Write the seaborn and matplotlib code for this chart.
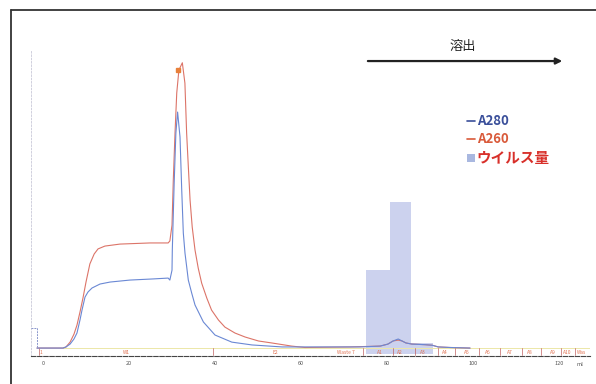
import numpy as np
import pandas as pd
import seaborn as sns
import matplotlib.pyplot as plt
from matplotlib.lines import Line2D
from matplotlib.patches import Patch

# elution volume (ml) and absorbance (mAU)
a280_ml = [-1.4, 4.65, 5.35, 6.3, 7.2, 7.9, 8.6, 9.07, 9.77, 10.47, 11.4, 13.26,
           15.6, 20.2, 25.6, 29.1, 29.5, 30.0, 30.07, 30.5, 30.9, 31.3, 31.86,
           32.26, 32.63, 33.02, 33.42, 33.79, 34.58, 35.35, 37.3, 40.0, 43.9,
           48.6, 55.6, 66.7, 73.7, 78.4, 80.2, 81.4, 82.6, 83.5, 84.4, 85.8,
           88.8, 90.5, 91.9, 94.7, 99.3]
a280_mau = [0, 0, 4, 14, 32, 53, 99, 134, 180, 198, 212, 226,
            233, 240, 244, 247, 240, 275, 346, 582, 759, 833, 745,
            558, 406, 335, 286, 240, 194, 152, 92, 46, 21,
            11, 4, 4, 4, 7, 14, 25, 32, 25, 18, 14,
            12, 10, 4, 2, 0]

a260_ml = [-1.4, 4.65, 5.35, 6.3, 7.2, 7.9, 8.6, 9.3, 10.0, 10.9, 11.9, 12.8,
           14.4, 17.9, 24.9, 29.1, 29.5, 30.0, 30.3, 30.7, 31.1, 31.6, 32.4,
           33.0, 33.4, 33.8, 34.2, 34.7, 35.35, 36.1, 36.9, 38.1, 39.2, 40.8,
           42.3, 44.65, 47.0, 50.1, 53.2, 57.8, 60.9, 71.4, 78.4, 80.2, 81.4,
           82.6, 83.5, 84.4, 85.8, 88.8, 90.5, 91.9, 94.7, 99.3]
a260_mau = [0, 0, 4, 21, 49, 81, 127, 177, 233, 297, 332, 350,
            360, 367, 371, 371, 378, 434, 593, 759, 900, 981, 1007,
            935, 759, 639, 522, 427, 346, 282, 229, 176, 134, 99,
            74, 53, 39, 25, 18, 7, 2, 4, 7, 14, 25,
            28, 25, 18, 14, 12, 10, 4, 2, 0]

# injection marker
inject_ml = [-2.8, -1.4, -1.4]
inject_mau = [71, 71, 0]

# virus amount per fraction (bar left edge, width, height)
virus_left = [75.1, 80.7, 85.6]
virus_width = [5.6, 4.9, 5.1]
virus_amount = [296, 536, 38]

# fraction marks along the baseline
frac_ticks = [-0.9, 39.5, 74.4, 81.4, 86.5, 91.9, 95.8, 101.4, 106.3, 111.4,
              115.8, 120.5, 123.7]
frac_pos = [-0.4, 19.5, 54.0, 70.5, 78.4, 83.0, 88.4, 93.5, 98.6, 103.5, 108.6,
            113.3, 118.6, 121.9, 125.3]
frac_labels = ['1', 'W1', 'E2', 'Waste 7', 'A1', 'A2', 'A3', 'A4', 'A5', 'A6',
               'A7', 'A8', 'A9', 'A10', 'Was']

xticks = [0, 20, 40, 60, 80, 100, 120]

sns.set_style('white')
plt.rcParams['font.family'] = ['Noto Sans CJK JP', 'DejaVu Sans']

fig = plt.figure(figsize=(5.96, 3.84), dpi=100)
ax = fig.add_axes([31 / 596, 28 / 384, 559 / 596, 306 / 384])

ax.bar(virus_left, virus_amount, width=virus_width, bottom=-20, align='edge',
       color='#c3cbec', alpha=0.85, linewidth=0, zorder=1)

ax.axhline(0, xmin=0.057, xmax=1, color='#ece7a8', lw=0.7, zorder=1)

sns.lineplot(x=a260_ml, y=a260_mau, ax=ax, color='#dc7468', lw=0.8, zorder=3)
sns.lineplot(x=a280_ml, y=a280_mau, ax=ax, color='#6a88d4', lw=0.8, zorder=3)
ax.plot(inject_ml, inject_mau, color='#8a96cc', lw=0.7, ls=(0, (2, 1)), zorder=3)
ax.plot([31.4], [981], marker='s', ms=3, color='#e8803a', zorder=4)

for t in frac_ticks:
    ax.plot([t, t], [-26, 0], color='#c06060', lw=0.5, zorder=2)
for p, lab in zip(frac_pos, frac_labels):
    ax.text(p, -14, lab, color='#e07050', fontsize=3.5, ha='center', va='center')

ax.set_xlim(-2.79, 127.2)
ax.set_ylim(-28, 1052)
ax.set_xticks(xticks)
ax.set_xticklabels([str(t) for t in xticks], fontsize=4, color='#555555',
                   style='italic')
ax.set_yticks([])
ax.tick_params(axis='x', length=2, width=0.5, pad=1.5, color='#444444')
ax.text(124.9, -50, 'ml', fontsize=4, color='#555555', ha='center', va='top',
        style='italic')

for s in ['top', 'right']:
    ax.spines[s].set_visible(False)
ax.spines['bottom'].set_linestyle((0, (4, 1.5)))
ax.spines['bottom'].set_color('#444444')
ax.spines['bottom'].set_linewidth(0.8)
ax.spines['left'].set_linestyle((0, (2, 2)))
ax.spines['left'].set_color('#c8c8d8')
ax.spines['left'].set_linewidth(0.6)

# elution arrow
ax.annotate('', xy=(121.4, 1013), xytext=(74.9, 1013),
            arrowprops=dict(arrowstyle='-|>', color='#222222', lw=1.6,
                            mutation_scale=9))
fig.text(463 / 596, 1 - 46 / 384, '溶出', fontsize=9.5, ha='center',
         va='center', color='#222222')

handles = [Line2D([0], [0], color='#3a4f9a', lw=1.2),
           Line2D([0], [0], color='#d95a3a', lw=1.2),
           Patch(facecolor='#a9b8e0', edgecolor='none')]
leg = ax.legend(handles, ['A280', 'A260', 'ウイルス量'],
                loc='upper left', bbox_to_anchor=(467 / 596, 1 - 114 / 384),
                bbox_transform=fig.transFigure, frameon=False,
                handlelength=0.6, handleheight=0.6, handletextpad=0.15,
                labelspacing=0.3, borderpad=0, borderaxespad=0,
                prop={'size': 9.5, 'weight': 'bold'},
                labelcolor=['#3a4f9a', '#d95a3a', '#d8302a'])
leg.get_texts()[2].set_fontsize(10.5)

# outer frame of the scanned figure
fig.add_artist(Line2D([11 / 596, 1], [1 - 10 / 384, 1 - 10 / 384],
                      transform=fig.transFigure, color='#333333', lw=1.3))
fig.add_artist(Line2D([11 / 596, 11 / 596], [0, 1 - 10 / 384],
                      transform=fig.transFigure, color='#333333', lw=1.3))

fig.savefig('out.png', dpi=100)
